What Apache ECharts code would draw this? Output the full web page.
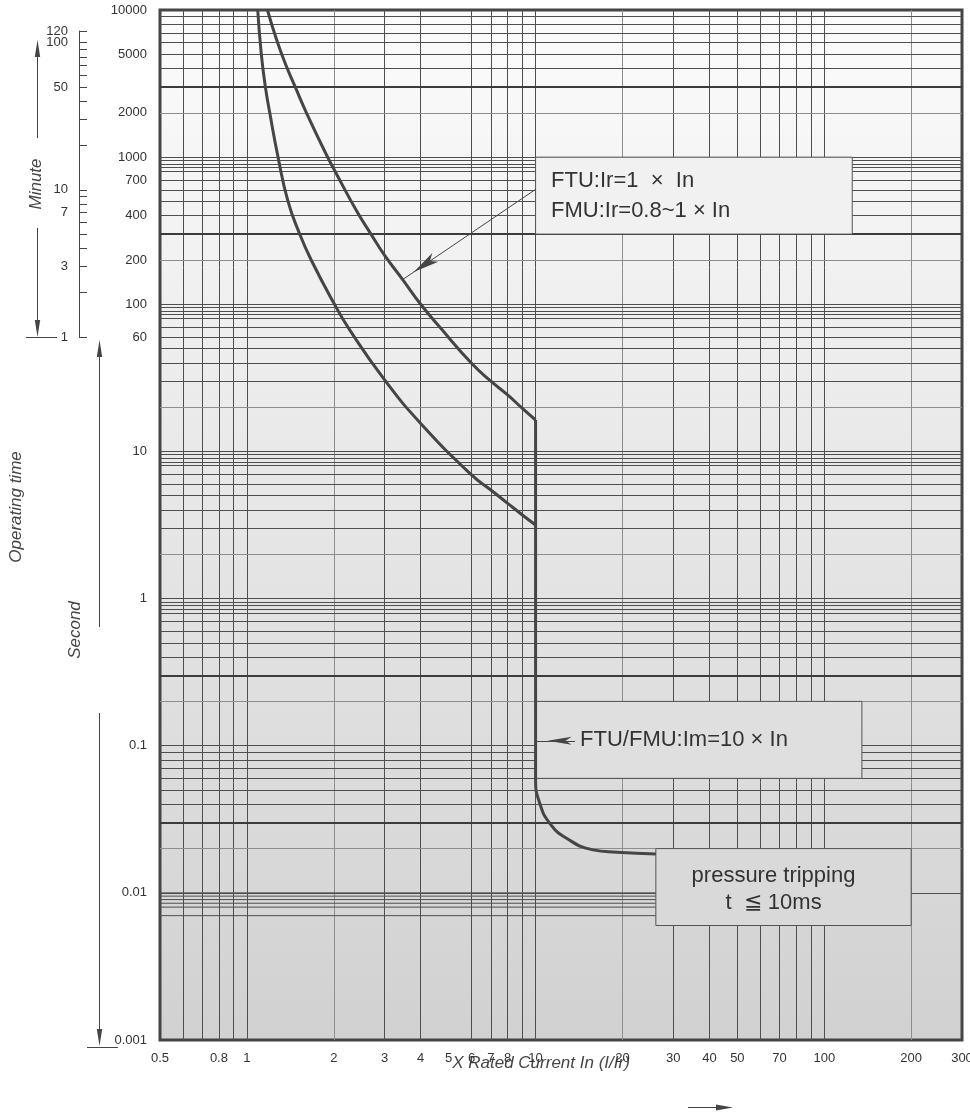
<!DOCTYPE html>
<html>
<head>
<meta charset="utf-8">
<script src="https://cdn.jsdelivr.net/npm/echarts@6/dist/echarts.min.js"></script>
<style>
html,body{margin:0;padding:0;background:#ffffff;}
#chart{width:970px;height:1115px;}
</style>
</head>
<body>
<div id="chart"></div>
<script>
// ---------- data ----------
const xTickLabels = [0.5, 0.8, 1, 2, 3, 4, 5, 6, 7, 8, 10, 20, 30, 40, 50, 70, 100, 200, 300];
const yTickLabels = [0.001, 0.01, 0.1, 1, 10, 60, 100, 200, 400, 700, 1000, 2000, 5000, 10000];
const minuteTicks = [1, 2, 3, 4, 5, 6, 7, 8, 9, 10, 20, 30, 40, 50, 60, 70, 80, 90, 100, 120];
const minuteLabels = [1, 3, 7, 10, 50, 100];
const minuteTopLabel = [120];

const xGridValues = [0.6, 0.7, 0.8, 0.9, 1, 2, 3, 4, 6, 7, 8, 9, 10, 20, 30, 40, 50, 60, 70, 80, 90, 100, 200];
const xGridLight = [2, 20, 200];
const yDecades = [0.001, 0.01, 0.1, 1, 10, 100];
const yMantissas = [1, 2, 3, 4, 5, 6, 7, 8, 8.5, 9, 9.5];
const yTopDecade = 1000;
const yTopMantissas = [1, 2, 3, 4, 5, 6, 7, 8, 9];
const yThickLines = [3000, 300, 0.3, 0.03];

const upperCurrent = [1.178, 1.27, 1.36, 1.47, 1.608, 1.88, 2.05, 2.4, 2.69, 3.0, 3.474, 4.0, 4.656, 6.0, 7.0, 8.0, 9.0, 10];
const upperTime    = [10000, 6200, 4300, 3000, 2000, 1050, 760, 430, 300, 215, 146, 100, 70, 39.7, 30, 24.2, 19.6, 16.35];

const lowerCurrent = [1.09, 1.122, 1.159, 1.2, 1.282, 1.388, 1.524, 1.67, 2.0, 2.27, 3.0, 4.0, 6.0, 7.0, 8.0, 9.0, 10];
const lowerTime    = [10000, 5000, 3000, 2000, 1000, 500, 300, 200, 102, 67, 30.6, 15.5, 6.92, 5.47, 4.44, 3.7, 3.16];

const tailCurrent = [10, 10, 10.34, 11.2, 12.8, 15.8, 19.1, 26.1];
const tailTime    = [16.35, 0.0585, 0.0406, 0.0297, 0.0235, 0.0196, 0.0189, 0.0184];

// annotation boxes [current from, time from, current to, time to]
const box1 = [10, 1000, 125, 300];
const box2 = [10, 0.2, 135, 0.06];
const box3 = [26.1, 0.02, 200, 0.006];
const arrow1 = [[10, 604], [3.474, 147.8]];
const arrow2 = [[13.7, 0.108], [10, 0.108]];

// ---------- styling ----------
const FONT = '"Liberation Sans", Arial, Helvetica, sans-serif';
const INK = '#454545';
const GRID_DARK = '#4e4e4e';
const GRID_LIGHT = '#8e8e8e';
const fmt = v => String(+Number(v).toPrecision(6));
const zip = (a, b) => a.map((v, i) => [v, b[i]]);
const NO_LINE = { show: false, lineStyle: { opacity: 0, width: 0 } };

const gridLines = [];
xGridValues.forEach(v => {
  const light = xGridLight.includes(v);
  gridLines.push({ xAxis: v, lineStyle: { color: light ? GRID_LIGHT : GRID_DARK, width: 1, type: 'solid' } });
});
const hVals = [];
yDecades.forEach(d => yMantissas.forEach(m => hVals.push([+(d * m).toPrecision(6), m])));
yTopMantissas.forEach(m => hVals.push([+(yTopDecade * m).toPrecision(6), m]));
const bandLineData = [];   // horizontal lines that stop at the lower box
hVals.forEach(([v, m]) => {
  if (v <= 0.001 || v >= 10000) return;
  const thick = yThickLines.includes(v);
  const ls = thick ? { color: '#3c3c3c', width: 2.2, type: 'solid' }
               : { color: m === 2 ? GRID_LIGHT : GRID_DARK, width: 1, type: 'solid' };
  if (v > box3[3] && v < box3[1]) {
    bandLineData.push([0.5, v], [box3[0], v], ['-', '-']);
  } else {
    gridLines.push({ yAxis: v, lineStyle: ls });
  }
});

const boxLabel = { show: true, color: '#333', fontSize: 22, fontFamily: FONT };
const minuteAxisBase = { type: 'log', logBase: 10, min: 1, max: 120, gridIndex: 1, position: 'left', offset: 0 };

const chart = echarts.init(document.getElementById('chart'), null, { renderer: 'canvas' });
chart.setOption({
  animation: false,
  backgroundColor: '#ffffff',
  textStyle: { fontFamily: FONT },
  grid: [
    {
      left: 160, right: 8, top: 10, bottom: 75,
      outerBoundsMode: 'none', containLabel: false,
      show: true, borderColor: INK, borderWidth: 3,
      backgroundColor: {
        type: 'linear', x: 0, y: 0, x2: 0, y2: 1,
        colorStops: [{ offset: 0, color: '#fcfcfc' }, { offset: 0.5, color: '#e6e6e6' }, { offset: 1, color: '#d1d1d1' }]
      }
    },
    { left: 79, top: 31, width: 10, height: 305.93, show: false, outerBoundsMode: 'none', containLabel: false }
  ],
  xAxis: [
    {
      type: 'log', logBase: 10, min: 0.5, max: 300, gridIndex: 0,
      axisLine: NO_LINE, axisTick: NO_LINE, splitLine: NO_LINE,
      minorTick: NO_LINE, minorSplitLine: NO_LINE,
      axisLabel: { customValues: xTickLabels, formatter: fmt, margin: 12, color: '#333', fontSize: 13, fontFamily: FONT,
                   hideOverlap: false },
      name: 'X Rated Current In (I/Ir)', nameLocation: 'middle', nameGap: 15, nameMoveOverlap: false,
      nameTextStyle: { fontStyle: 'italic', fontSize: 17, color: INK, fontFamily: FONT, padding: [0, 40, 0, 0] }
    },
    { type: 'value', gridIndex: 1, show: false, min: 0, max: 1, splitLine: NO_LINE }
  ],
  yAxis: [
    {
      type: 'log', logBase: 10, min: 0.001, max: 10000, gridIndex: 0,
      axisLine: NO_LINE, axisTick: NO_LINE, splitLine: NO_LINE,
      minorTick: NO_LINE, minorSplitLine: NO_LINE,
      axisLabel: { customValues: yTickLabels, formatter: fmt, margin: 13, color: '#333', fontSize: 13, fontFamily: FONT,
                   hideOverlap: false },
      name: 'Operating time', nameLocation: 'middle', nameRotate: 90, nameGap: 135, nameMoveOverlap: false,
      nameTextStyle: { fontStyle: 'italic', fontSize: 17, color: INK, fontFamily: FONT, padding: [0, 0, 0, 36] }
    },
    Object.assign({}, minuteAxisBase, {
      axisLine: { show: true, lineStyle: { color: INK, width: 1 } },
      axisTick: { show: true, inside: true, length: 8, customValues: minuteTicks, lineStyle: { color: INK, width: 1 } },
      axisLabel: { customValues: minuteLabels, formatter: fmt, margin: 11, color: '#333', fontSize: 13, fontFamily: FONT,
                   showMaxLabel: true, showMinLabel: true, hideOverlap: false },
      splitLine: NO_LINE, minorTick: NO_LINE, minorSplitLine: NO_LINE,
      name: 'Minute', nameLocation: 'middle', nameRotate: 90, nameGap: 34, nameMoveOverlap: false,
      nameTextStyle: { fontStyle: 'italic', fontSize: 17, color: INK, fontFamily: FONT }
    }),
    Object.assign({}, minuteAxisBase, {
      axisLine: NO_LINE, axisTick: NO_LINE, splitLine: NO_LINE, minorTick: NO_LINE, minorSplitLine: NO_LINE,
      axisLabel: { customValues: minuteTopLabel, formatter: fmt, margin: 11, color: '#333', fontSize: 13, fontFamily: FONT,
                   showMaxLabel: true, hideOverlap: false }
    })
  ],
  series: [
    {
      name: 'upper', type: 'line', xAxisIndex: 0, yAxisIndex: 0, z: 3,
      data: zip(upperCurrent, upperTime), smooth: 0.5, symbol: 'none',
      lineStyle: { color: INK, width: 3 }, silent: true,
      markLine: {
        z: 1, silent: true, symbol: ['none', 'none'], label: { show: false },
        emphasis: { disabled: true }, animation: false,
        data: gridLines
      }
    },
    {
      name: 'bandGrid', type: 'line', xAxisIndex: 0, yAxisIndex: 0, z: 1,
      data: bandLineData, connectNulls: false, symbol: 'none', silent: true,
      lineStyle: { color: GRID_DARK, width: 1 }
    },
    {
      name: 'lower', type: 'line', xAxisIndex: 0, yAxisIndex: 0, z: 3,
      data: zip(lowerCurrent, lowerTime), smooth: 0.5, symbol: 'none',
      lineStyle: { color: INK, width: 3 }, silent: true,
      markArea: {
        z: 2, silent: true, emphasis: { disabled: true },
        data: [
          [
            { coord: [box1[0], box1[1]], itemStyle: { color: '#f1f1f1', borderColor: '#555', borderWidth: 1 },
              label: Object.assign({}, boxLabel, { position: 'insideLeft', distance: 16, lineHeight: 30,
                formatter: 'FTU:Ir=1  \u00d7  In\nFMU:Ir=0.8~1 \u00d7 In' }) },
            { coord: [box1[2], box1[3]] }
          ],
          [
            { coord: [box2[0], box2[1]], itemStyle: { color: '#dfdfdf', borderColor: '#555', borderWidth: 1 },
              label: Object.assign({}, boxLabel, { position: 'insideLeft', distance: 45,
                formatter: 'FTU/FMU:Im=10 \u00d7 In' }) },
            { coord: [box2[2], box2[3]] }
          ],
          [
            { coord: [box3[0], box3[1]], itemStyle: { color: '#d9d9d9', borderColor: '#555', borderWidth: 1 },
              label: Object.assign({}, boxLabel, { position: 'inside', align: 'center', lineHeight: 27, offset: [-10, 2],
                formatter: 'pressure tripping\nt  \u2266 10ms' }) },
            { coord: [box3[2], box3[3]] }
          ]
        ]
      }
    },
    {
      name: 'instantaneous', type: 'line', xAxisIndex: 0, yAxisIndex: 0, z: 3,
      data: zip(tailCurrent, tailTime), smooth: 0.5, symbol: 'none',
      lineStyle: { color: INK, width: 3 }, silent: true,
      markLine: {
        z: 4, silent: true, symbol: ['none', 'arrow'], label: { show: false },
        emphasis: { disabled: true }, animation: false,
        lineStyle: { color: INK, width: 1, type: 'solid' }, itemStyle: { color: INK },
        data: [
          [ { coord: arrow1[0] }, { coord: arrow1[1], symbolSize: [8, 26], symbolOffset: [0, 13] } ],
          [ { coord: arrow2[0] }, { coord: arrow2[1], symbolSize: [6, 24], symbolOffset: [0, 12] } ]
        ]
      }
    }
  ],
  graphic: [
    // Minute arrows
    { type: 'line', silent: true, shape: { x1: 37.5, y1: 55, x2: 37.5, y2: 138 }, style: { stroke: INK, lineWidth: 1 } },
    { type: 'polygon', silent: true, shape: { points: [[37.5, 40], [34.8, 57], [40.2, 57]] }, style: { fill: INK } },
    { type: 'line', silent: true, shape: { x1: 37.5, y1: 228, x2: 37.5, y2: 322 }, style: { stroke: INK, lineWidth: 1 } },
    { type: 'polygon', silent: true, shape: { points: [[37.5, 337], [34.8, 320], [40.2, 320]] }, style: { fill: INK } },
    { type: 'line', silent: true, shape: { x1: 26, y1: 337.5, x2: 57, y2: 337.5 }, style: { stroke: INK, lineWidth: 1 } },
    // Second arrows
    { type: 'line', silent: true, shape: { x1: 99.5, y1: 355, x2: 99.5, y2: 627 }, style: { stroke: INK, lineWidth: 1 } },
    { type: 'polygon', silent: true, shape: { points: [[99.5, 340], [96.8, 357], [102.2, 357]] }, style: { fill: INK } },
    { type: 'line', silent: true, shape: { x1: 99.5, y1: 713, x2: 99.5, y2: 1030 }, style: { stroke: INK, lineWidth: 1 } },
    { type: 'polygon', silent: true, shape: { points: [[99.5, 1046], [96.8, 1029], [102.2, 1029]] }, style: { fill: INK } },
    { type: 'line', silent: true, shape: { x1: 87, y1: 1047.5, x2: 118, y2: 1047.5 }, style: { stroke: INK, lineWidth: 1 } },
    { type: 'text', silent: true, x: 75, y: 630, rotation: Math.PI / 2,
      style: { text: 'Second', fontSize: 17, fontStyle: 'italic', fontFamily: FONT, fill: INK,
               align: 'center', verticalAlign: 'middle', textAlign: 'center', textVerticalAlign: 'middle' } },
    // bottom arrow
    { type: 'line', silent: true, shape: { x1: 688, y1: 1107.5, x2: 718, y2: 1107.5 }, style: { stroke: INK, lineWidth: 1 } },
    { type: 'polygon', silent: true, shape: { points: [[733, 1107.5], [716, 1104.5], [716, 1110.5]] }, style: { fill: INK } }
  ]
});
</script>
</body>
</html>
